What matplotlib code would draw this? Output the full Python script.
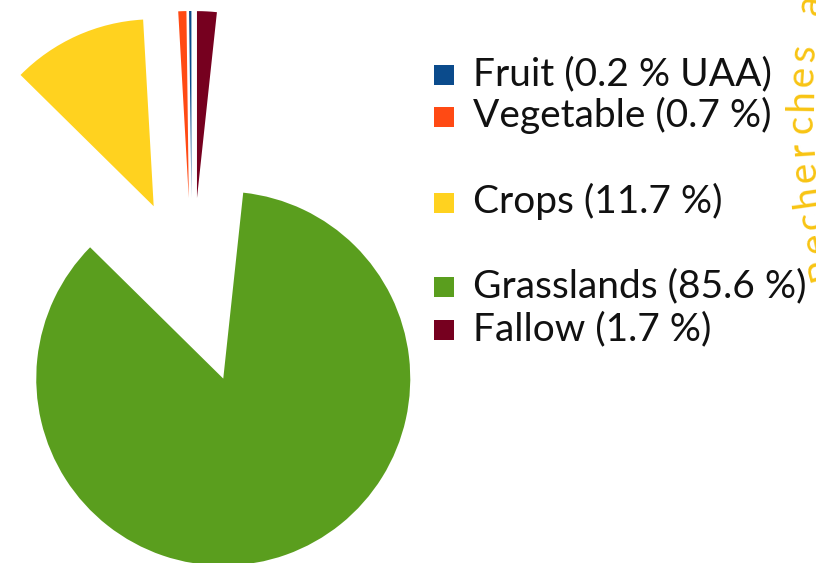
import numpy as np
import matplotlib
matplotlib.use("Agg")
import matplotlib.pyplot as plt

# land use shares (% of UAA), in pie order (counter-clockwise from 12 o'clock)
labels = ["Fruit (0.2 % UAA)", "Vegetable (0.7 %)", "Crops (11.7 %)",
          "Grasslands (85.6 %)", "Fallow (1.7 %)"]
shares = [0.2, 0.7, 11.7, 85.6, 1.7]
colors = ["#0B4B8C", "#FF4A14", "#FFD21F", "#5A9E1E", "#76001F"]

W, H = 816, 563
fig = plt.figure(figsize=(W / 100, H / 100), dpi=100)
ax = fig.add_axes([0, 0, 1, 1])   # data units == pixels, y up

R = 187
ax.pie(shares, colors=colors, startangle=90, counterclock=True,
       radius=R, center=(192, H - 291), explode=[93] * len(shares),
       wedgeprops=dict(linewidth=0))
ax.set_xlim(0, W); ax.set_ylim(0, H)
ax.set_aspect("equal")
ax.axis("off")

# hand-laid legend: square swatch + label, grouped with uneven gaps
baselines = [85, 127, 213, 297, 340]          # image-y of each text baseline
for lab, col, yb in zip(labels, colors, baselines):
    ax.scatter([444], [H - yb + 10], marker="s", s=205, color=col, linewidths=0)
    ax.text(473, H - yb, lab, fontsize=28, family="Lato", color="#111",
            va="baseline", ha="left")

# faint curved watermark text cut by the right edge
wm = "Recherches a"
rb, cx, cy = 600, 1412, H - 110
step, s0 = 23.5, 155
for i, ch in enumerate(wm):
    phi = np.pi + (s0 - i * step) / rb
    x, y = cx + rb * np.cos(phi), cy + rb * np.sin(phi)
    ax.text(x, y, ch, fontsize=28, family="Lato", color="#F8C413",
            rotation=np.degrees(phi) - 90, rotation_mode="anchor",
            ha="center", va="baseline", clip_on=False)

fig.savefig("out.png", dpi=100, facecolor="white")
